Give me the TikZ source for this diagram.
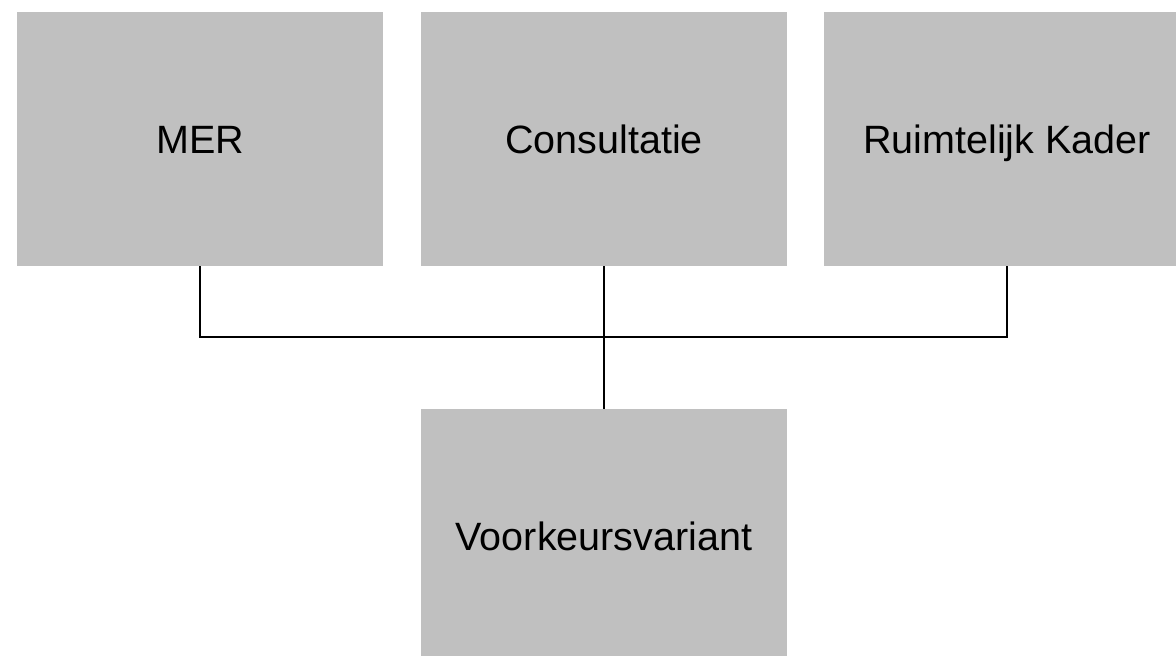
\documentclass[tikz,border=0pt]{standalone}
\usepackage{fontspec}
\setmainfont{Liberation Sans}
\definecolor{boxgray}{RGB}{192,192,192}
\begin{document}
\begin{tikzpicture}[x=1pt,y=-1pt,
  box/.style={rectangle, fill=boxgray, draw=none, minimum width=366pt, minimum height=254pt,
    inner sep=0pt, font=\fontsize{39.5}{42}\selectfont, text height=28pt, text depth=0pt},
  link/.style={draw=black, line width=2.2pt}]
\useasboundingbox (0,0) rectangle (1176,656);
\clip (0,0) rectangle (1176,656);
\node[box] (mer) at (200,139) {MER};
\node[box] (cons) at (604,139) {Consultatie};
\node[box] (rk) at (1007,139) {Ruimtelijk Kader};
\node[box] (vk) at (604,536) {Voorkeursvariant};
\coordinate (hub) at (604,337);
\draw[link] (mer.south) |- (hub) -| (rk.south);
\draw[link] (cons.south) -- (hub);
\draw[link, line width=2.6pt] (hub) -- (vk.north);
\end{tikzpicture}
\end{document}
